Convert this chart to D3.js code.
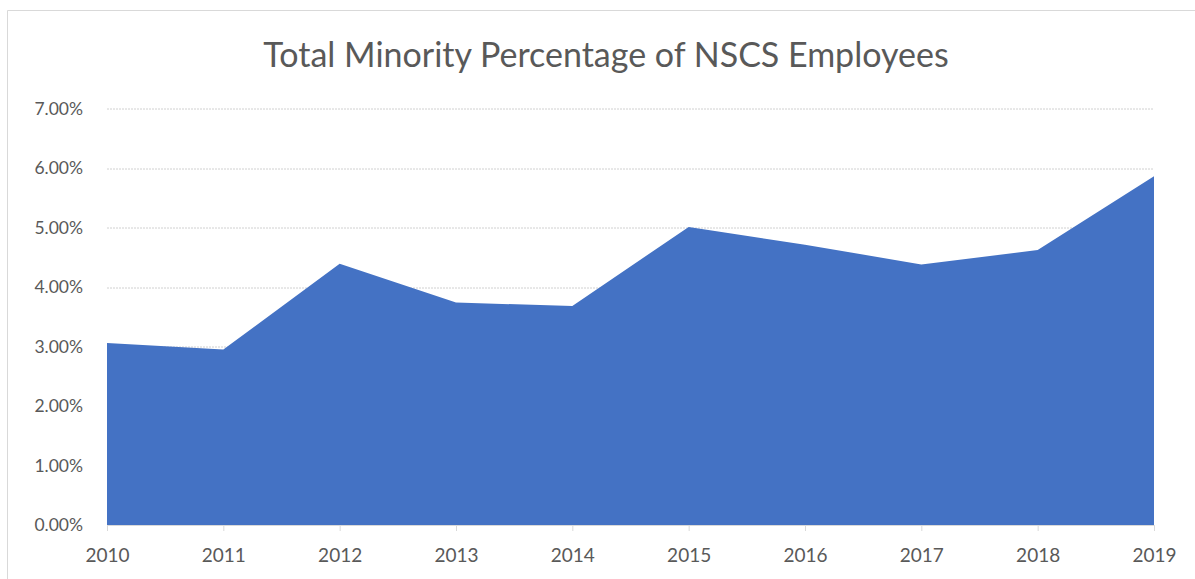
<!DOCTYPE html>
<html>
<head>
<meta charset="utf-8">
<script src="https://cdn.jsdelivr.net/npm/d3@7/dist/d3.min.js"></script>
<style>
  body { margin: 0; background: #fff; }
  text { font-family: Lato, "Open Sans", sans-serif; fill: #595959; }
  .grid line { stroke: #d0d0d0; stroke-dasharray: 2,1; }
</style>
</head>
<body>
<div id="chart"></div>
<script>
var title = "Total Minority Percentage of NSCS Employees";
var years = [2010, 2011, 2012, 2013, 2014, 2015, 2016, 2017, 2018, 2019];
var pct = [3.06, 2.95, 4.39, 3.74, 3.68, 5.01, 4.71, 4.38, 4.62, 5.86];
var yTicks = [0, 1, 2, 3, 4, 5, 6, 7];

var W = 1195, H = 579;
var margin = {top: 108.5, right: 41, bottom: 54, left: 107},
    width = W - margin.left - margin.right,
    height = H - margin.top - margin.bottom;

var svg = d3.select("#chart").append("svg")
    .attr("width", W)
    .attr("height", H);

// chart frame
svg.append("path")
    .attr("d", "M7.5," + H + "V10.5H" + W)
    .attr("fill", "none")
    .attr("stroke", "#d9d9d9");

svg.append("text")
    .attr("x", 606)
    .attr("y", 67)
    .attr("text-anchor", "middle")
    .style("font-size", "34px")
    .text(title);

var g = svg.append("g")
    .attr("transform", "translate(" + margin.left + "," + margin.top + ")");

var x = d3.scalePoint().domain(years).range([0, width]);
var y = d3.scaleLinear().domain([0, 7]).range([height, 0]);

// gridlines
g.append("g").attr("class", "grid")
  .selectAll("line")
  .data(yTicks.slice(1))
  .enter().append("line")
    .attr("x1", 0).attr("x2", width)
    .attr("y1", function(d){ return Math.round(y(d)) + 0.5; })
    .attr("y2", function(d){ return Math.round(y(d)) + 0.5; });

var area = d3.area()
    .x(function(d, i){ return x(years[i]); })
    .y0(y(0))
    .y1(function(d){ return y(d); });

g.append("path")
    .datum(pct)
    .attr("fill", "#4472C4")
    .attr("d", area);

// y axis labels
g.append("g")
  .selectAll("text")
  .data(yTicks)
  .enter().append("text")
    .attr("x", -24)
    .attr("y", function(d){ return y(d); })
    .attr("dy", "0.35em")
    .attr("text-anchor", "end")
    .style("font-size", "17.5px")
    .text(function(d){ return d3.format(".2f")(d) + "%"; });

// x axis
var xaxis = g.append("g")
    .attr("transform", "translate(0," + height + ")")
    .call(d3.axisBottom(x).tickSize(6).tickPadding(18));
xaxis.select(".domain").attr("stroke", "#d9d9d9");
xaxis.selectAll(".tick line").attr("stroke", "#d9d9d9");
xaxis.selectAll("text")
    .style("font-size", "19px")
    .style("font-family", "Lato, 'Open Sans', sans-serif")
    .attr("fill", "#595959");
</script>
</body>
</html>
